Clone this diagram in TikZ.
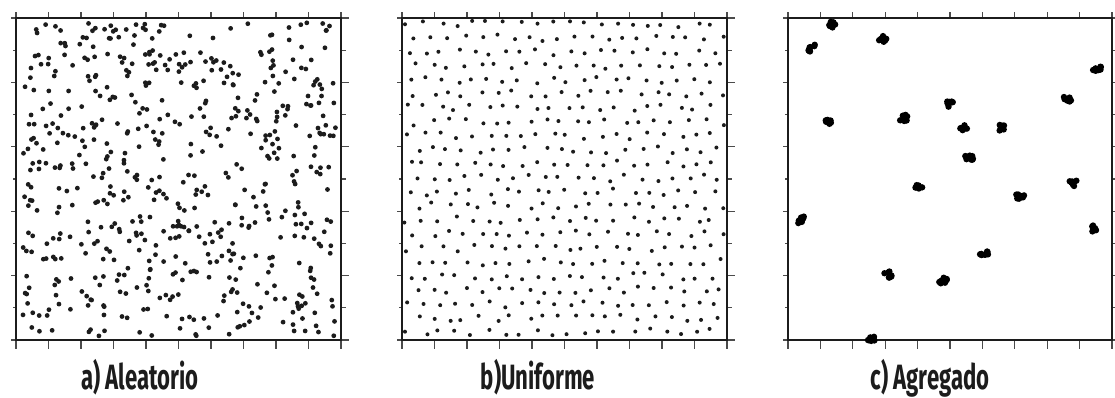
\documentclass[tikz,border=0pt]{standalone}
\usepackage{fontspec}
\newfontfamily\capfont{Fira Sans}[FakeStretch=0.63]
\definecolor{inkdark}{RGB}{28,28,28}
\definecolor{tickgray}{RGB}{75,75,75}
\tikzset{
  frame/.style={
    draw=inkdark,
    line width=1.4pt
  },
  tickmark/.style={
    draw=tickgray,
    line width=0.8pt
  },
  dotA/.style={fill=inkdark},
  dotB/.style={fill=inkdark},
  blob/.style={fill=black},
  caption/.style={
    anchor=base,
    inner sep=0pt,
    text=inkdark,
    font=\capfont\bfseries\fontsize{25}{26}\selectfont
  }
}

\begin{document}
\begin{tikzpicture}[x=0.025cm, y=-0.025cm]
    \useasboundingbox (0,0) rectangle (1115,398);
    \pgfmathsetseed{4127}

    \foreach \lx/\rx in {16/341,402/727,788/1112} {
        \foreach \i in {0,...,10} {
            \pgfmathsetmacro{\tx}{\lx+\i*(\rx-\lx)/10}
            \pgfmathsetmacro{\ty}{18+\i*32.2}
            \pgfmathsetmacro{\tl}{mod(\i,2)==1 ? 3 : 5.5}
            \draw[tickmark] (\tx,18) -- ++(0,-6);
            \draw[tickmark] (\tx,340) -- ++(0,9);
            \draw[tickmark] (\lx,\ty) -- ++(-\tl,0);
            \draw[tickmark] (\rx,\ty) -- ++(\tl+2,0);
        }
        \draw[frame] (\lx,18) rectangle (\rx,340);
    }

    \foreach \i in {1,...,600}
        \fill[dotA] ({20+317*rnd},{22+314*rnd}) circle[radius=2.4];

    \foreach \r in {0,...,22}
        \foreach \c in {0,...,19}
            \fill[dotB] ({408+\c*16+mod(\r,2)*8+8*(rnd-0.5)},{24+\r*14+7*(rnd-0.5)}) circle[radius=2];

    \foreach \bx/\by in {832/24,811/48,883/39,1097/70,1067/100,950/104,904/118,827/123,964/127,1003/127,
                         969/158,919/186,1073/183,1020/197,802/220,1095/228,984/255,888/275,943/281,871/340}
        \foreach \k in {1,...,8}
            \fill[blob] ({\bx+4*rand},{\by+3.5*rand}) circle[radius=3.2];

    \node[caption] (capa) at (140,389) {a) Aleatorio};
    \node[caption] (capb) at (538,389) {b)Uniforme};
    \node[caption] (capc) at (930,389) {c) Agregado};
\end{tikzpicture}
\end{document}
